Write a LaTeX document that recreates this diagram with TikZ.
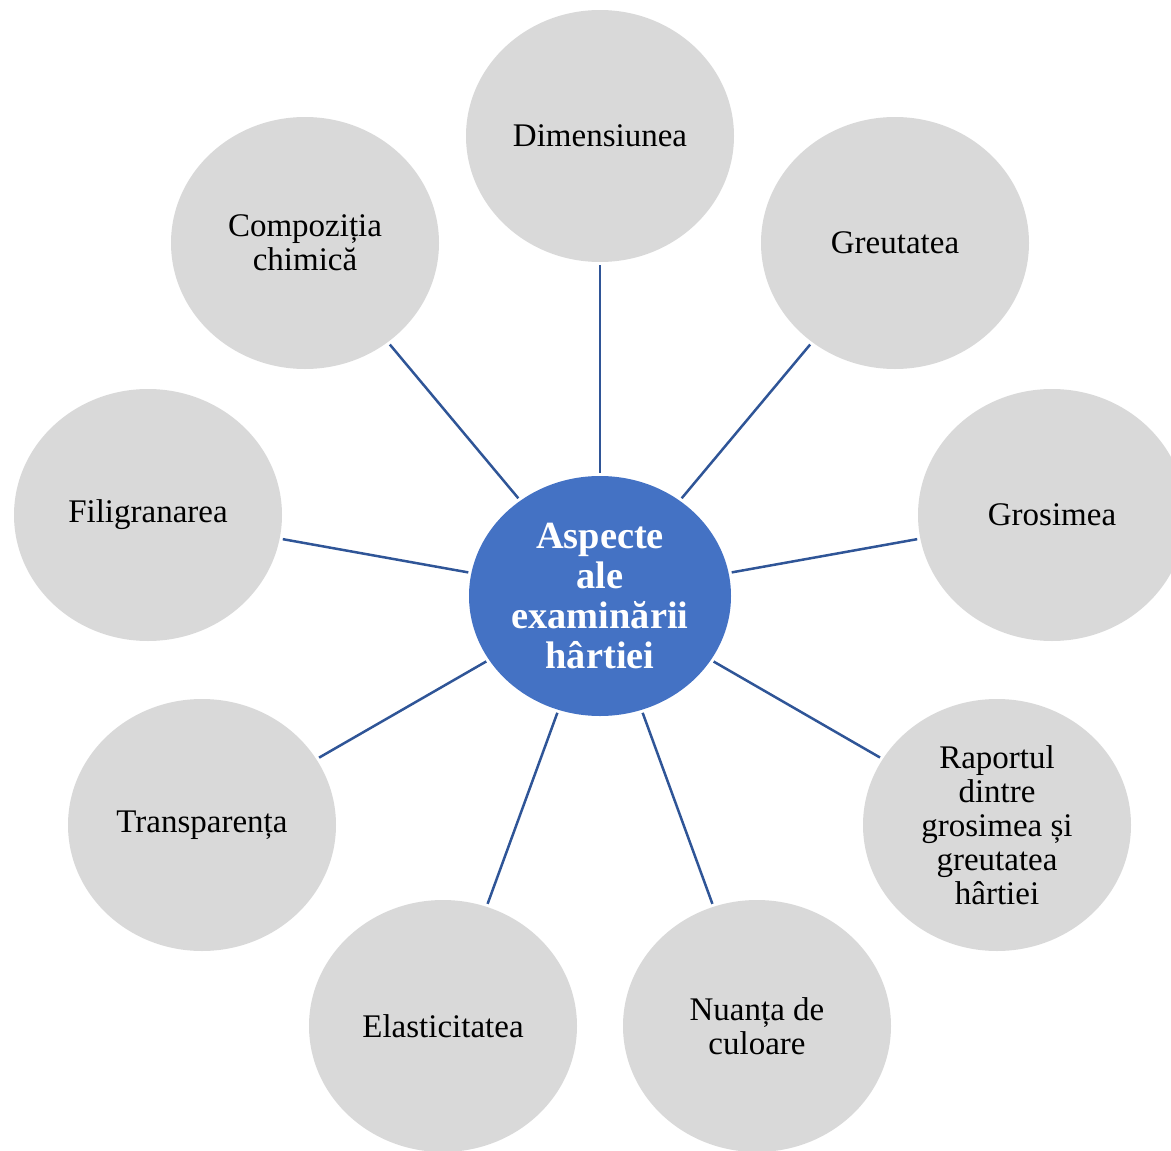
\documentclass[tikz,border=0pt]{standalone}
\usepackage{fontspec}
\setmainfont{Liberation Serif}
\usetikzlibrary{shapes.geometric}
\definecolor{outerfill}{HTML}{D9D9D9}
\definecolor{hubfill}{HTML}{4472C4}
\definecolor{linkcol}{HTML}{2F5597}
\tikzset{
  outer/.style={ellipse, fill=outerfill, minimum width=268pt, minimum height=252pt, inner sep=0pt, align=center, font=\fontsize{33}{34}\selectfont, text=black},
  hub/.style={ellipse, fill=hubfill, minimum width=262pt, minimum height=240pt, inner sep=0pt, align=center, font=\fontsize{38.4}{40}\selectfont\bfseries, text=white},
  link/.style={draw=linkcol, line width=2.5pt, shorten <=3pt, shorten >=3pt}
}
\begin{document}
\begin{tikzpicture}[x=1pt,y=-1pt]
\useasboundingbox (0,0) rectangle (1171,1151);
\node[hub] (c) at (600,596) {Aspecte\\ale\\examinării\\hârtiei};
\node[outer] (o1) at (600,136) {Dimensiunea};
\node[outer] (o2) at (895,243) {Greutatea};
\node[outer] (o3) at (1052,515) {Grosimea};
\node[outer] (o4) at (997,825) {Raportul\\dintre\\grosimea și\\greutatea\\hârtiei};
\node[outer] (o5) at (757,1026) {Nuanța de\\culoare};
\node[outer] (o6) at (443,1026) {Elasticitatea};
\node[outer] (o7) at (202,825) {Transparența};
\node[outer] (o8) at (148,515) {Filigranarea};
\node[outer] (o9) at (305,243) {Compoziția\\chimică};
\foreach \i in {1,...,9} {
  \draw[link] (c) -- (o\i);
}
\end{tikzpicture}
\end{document}
